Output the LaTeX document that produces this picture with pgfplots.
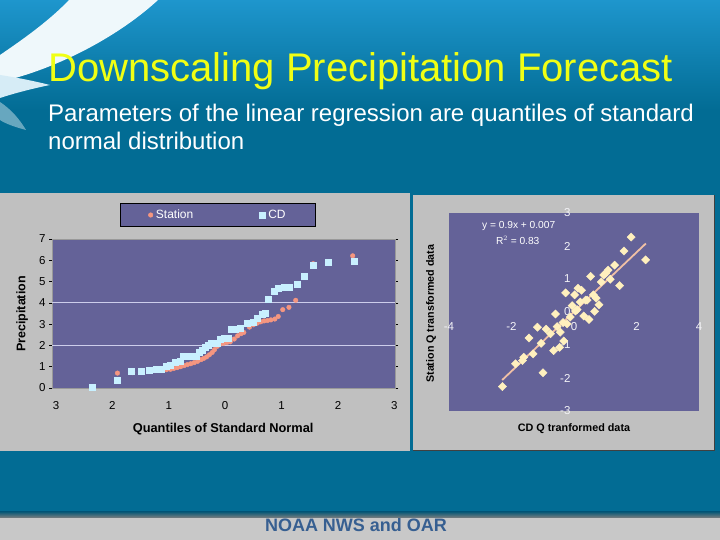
\documentclass[border=0pt]{standalone}
\usepackage{pgfplots}
\pgfplotsset{compat=1.18}
\usepackage{fontspec}
\setmainfont{Liberation Sans}
\definecolor{slideblue}{RGB}{2,108,148}
\definecolor{skyblue}{RGB}{30,150,205}
\definecolor{chartgray}{RGB}{192,192,192}
\definecolor{footgray}{RGB}{200,200,200}
\definecolor{plotbg}{RGB}{100,98,152}
\definecolor{stationc}{RGB}{245,150,128}
\definecolor{cdc}{RGB}{200,240,255}
\definecolor{diamc}{RGB}{255,240,190}
\definecolor{regc}{RGB}{240,192,165}
\definecolor{titley}{RGB}{240,255,20}
\definecolor{footblue}{RGB}{55,95,145}
\definecolor{gridc}{RGB}{205,205,235}

\pgfplotstableread{
q v
-1.91 0.70
-1.64 0.72
-1.49 0.76
-1.34 0.79
-1.23 0.82
-1.13 0.84
-1.04 0.86
-0.97 0.88
-0.91 0.92
-0.85 0.96
-0.79 1.00
-0.73 1.05
-0.67 1.10
-0.61 1.14
-0.55 1.19
-0.49 1.25
-0.43 1.33
-0.38 1.39
-0.33 1.46
-0.28 1.56
-0.23 1.67
-0.19 1.80
-0.14 1.96
-0.09 2.06
-0.03 2.10
0.03 2.14
0.09 2.17
0.16 2.30
0.22 2.45
0.28 2.55
0.33 2.61
0.43 2.86
0.50 2.97
0.57 3.05
0.63 3.11
0.69 3.15
0.75 3.17
0.81 3.20
0.88 3.24
0.94 3.36
1.02 3.68
1.13 3.79
1.25 4.12
1.56 5.84
1.82 5.90
2.26 6.21
}\stationtab

\pgfplotstableread{
q v
-2.36 0.02
-1.91 0.36
-1.66 0.78
-1.49 0.78
-1.34 0.83
-1.23 0.86
-1.13 0.86
-1.04 1.02
-0.97 1.08
-0.88 1.22
-0.80 1.25
-0.74 1.49
-0.67 1.49
-0.59 1.49
-0.52 1.49
-0.46 1.69
-0.40 1.78
-0.36 1.91
-0.30 1.99
-0.24 2.10
-0.15 2.10
-0.09 2.27
-0.02 2.32
0.06 2.32
0.11 2.74
0.18 2.74
0.26 2.79
0.39 3.05
0.49 3.10
0.57 3.29
0.65 3.47
0.71 3.51
0.77 4.16
0.87 4.57
0.94 4.68
1.04 4.73
1.14 4.73
1.27 4.90
1.40 5.27
1.56 5.76
1.82 5.93
2.28 5.98
}\cdtab

\pgfplotstableread{
x y
1.83 2.27
1.60 1.85
2.29 1.58
1.30 1.42
1.09 1.27
1.01 1.17
0.95 1.12
1.16 0.99
0.53 1.08
0.87 0.91
1.46 0.80
-0.27 0.58
0.02 0.52
0.13 0.72
0.24 0.66
0.71 0.42
0.80 0.22
0.66 0.02
0.31 -0.12
0.48 -0.23
0.20 0.30
0.37 0.36
-0.06 0.19
0.10 0.07
-0.59 -0.06
-1.17 -0.46
-0.89 -0.52
-0.54 -0.44
-0.22 -0.36
-0.44 -0.61
-1.44 -0.79
-0.33 -0.88
-0.46 -1.07
-0.65 -1.17
-1.31 -1.27
-1.61 -1.37
-1.87 -1.57
-0.99 -1.84
-2.29 -2.26
-1.05 -0.95
-0.75 -0.66
-0.12 -0.15
0.42 0.36
0.05 0.03
-1.65 -1.47
0.62 0.52
-0.35 -0.32
}\qtab

\begin{document}
\begin{tikzpicture}
\begin{scope}[x=1pt,y=1pt]
\path[use as bounding box] (0,0) rectangle (720,540);
% slide background
\fill[slideblue] (0,0) rectangle (720,540);
\shade[top color=skyblue, bottom color=slideblue] (0,430) rectangle (720,540);
% swoosh
\fill[white!93!skyblue] (69,540) -- (158,540) .. controls (120,505) and (60,472) .. (0,458) -- (0,485) .. controls (25,502) and (50,520) .. (69,540) -- cycle;
\fill[white!82!skyblue] (0,465) .. controls (20,462) and (38,458) .. (50,455) .. controls (35,452) and (15,447) .. (0,442) -- cycle;
\fill[white!40!slideblue] (0,438) .. controls (12,430) and (20,420) .. (26,410) .. controls (15,413) and (6,416) .. (0,420) -- cycle;
% footer
\fill[footgray] (0,0) rectangle (720,22);
\shade[top color=slideblue!80!black, bottom color=gray] (0,22) rectangle (720,28.5);
% chart boxes
\fill[chartgray] (0,89.3) rectangle (410,347.3);
\fill[chartgray] (413,89.3) rectangle (714,345);
\draw[black!75, line width=0.8pt] (714,345) -- (714,89.3) -- (413,89.3);
% titles
\node[anchor=base west, inner sep=0, text=titley, font=\fontsize{40}{44}\selectfont] at (48,458) {Downscaling Precipitation Forecast};
\node[anchor=base west, inner sep=0, text=white, font=\fontsize{24}{28}\selectfont] at (48,418) {Parameters of the linear regression are quantiles of standard};
\node[anchor=base west, inner sep=0, text=white, font=\fontsize{24}{28}\selectfont] at (48,390) {normal distribution};
\node[anchor=base, inner sep=0, text=footblue, font=\fontsize{18}{20}\selectfont\bfseries] at (356,8) {NOAA NWS and OAR};
\node[rotate=90, font=\fontsize{10.7}{12}\selectfont\bfseries, inner sep=0] at (431,226.3) {Station Q transformed data};
\node[font=\fontsize{10.8}{12}\selectfont\bfseries, inner sep=0] at (574,111) {CD Q tranformed data};
\end{scope}

% left chart
\begin{axis}[
  at={(52pt,152pt)}, anchor=south west, scale only axis,
  width=343pt, height=149pt,
  xmin=-3.07, xmax=3.01, ymin=0, ymax=7,
  axis background/.style={fill=plotbg},
  axis line style={draw=gray!80},
  xtick={-3,-2,-1,0,1,2,3}, xticklabels={3,2,1,0,1,2,3},
  ytick={0,1,2,3,4,5,6,7},
  tick align=outside, major tick length=3pt,
  tick style={black, line width=0.6pt},
  x tick style={draw=none},
  extra y ticks={2,4}, extra y tick labels={},
  extra y tick style={grid=major, major grid style={gridc, line width=0.8pt}, tick style={draw=none}},
  /pgf/number format/assume math mode=true,
  ticklabel style={font=\fontsize{11.5}{13}\selectfont, text=black},
  xticklabel style={yshift=-7pt},
  xlabel={Quantiles of Standard Normal},
  ylabel={Precipitation},
  xlabel style={font=\fontsize{12.8}{14}\selectfont\bfseries, at={(axis description cs:0.499,-0.275)}, anchor=center},
  ylabel style={font=\fontsize{12.5}{14}\selectfont\bfseries, at={(axis description cs:-0.087,0.497)}, anchor=center},
  legend columns=2,
  legend style={at={(0.484,1.161)}, anchor=center, fill=plotbg, draw=black, text=white,
    font=\fontsize{12}{13}\selectfont, inner xsep=28pt, inner ysep=4.5pt,
    /tikz/every odd column/.append style={column sep=1pt},
    /tikz/every even column/.append style={column sep=64pt}},
]
\addplot[only marks, mark=*, mark size=2.3pt, mark options={fill=stationc, draw=stationc}] table[x=q, y=v] {\stationtab};
\addlegendentry{Station}
\addplot[only marks, mark=square*, mark size=3pt, mark options={fill=cdc, draw=cdc}] table[x=q, y=v] {\cdtab};
\addlegendentry{CD}
\end{axis}

% right chart
\begin{axis}[
  at={(449pt,129pt)}, anchor=south west, scale only axis,
  width=250pt, height=198pt,
  xmin=-4, xmax=4, ymin=-3, ymax=3,
  axis lines=middle,
  axis line style={draw=none, -},
  axis background/.style={fill=plotbg},
  hide obscured x ticks=false, hide obscured y ticks=false,
  xtick={-4,-2,0,2,4}, ytick={-3,-2,-1,0,1,2,3},
  major tick length=0pt,
  /pgf/number format/assume math mode=true,
  ticklabel style={font=\fontsize{11.5}{13}\selectfont, text=white!92!plotbg},
  xticklabel style={yshift=-7pt},
]
\addplot[only marks, mark=square*, mark size=2.9pt, mark options={fill=diamc, draw=diamc, rotate=45}] table[x=x, y=y] {\qtab};
\addplot[regc, line width=1.8pt, no marks] coordinates {(-2.3,-2.063) (2.3,2.077)};
\node[text=white, font=\fontsize{10.2}{12}\selectfont, inner sep=0] at (axis cs:-1.77,2.60) {y = 0.9x + 0.007};
\node[text=white, font=\fontsize{10.2}{12}\selectfont, inner sep=0] at (axis cs:-1.80,2.18) {R$^2$ = 0.83};
\end{axis}
\end{tikzpicture}
\end{document}
